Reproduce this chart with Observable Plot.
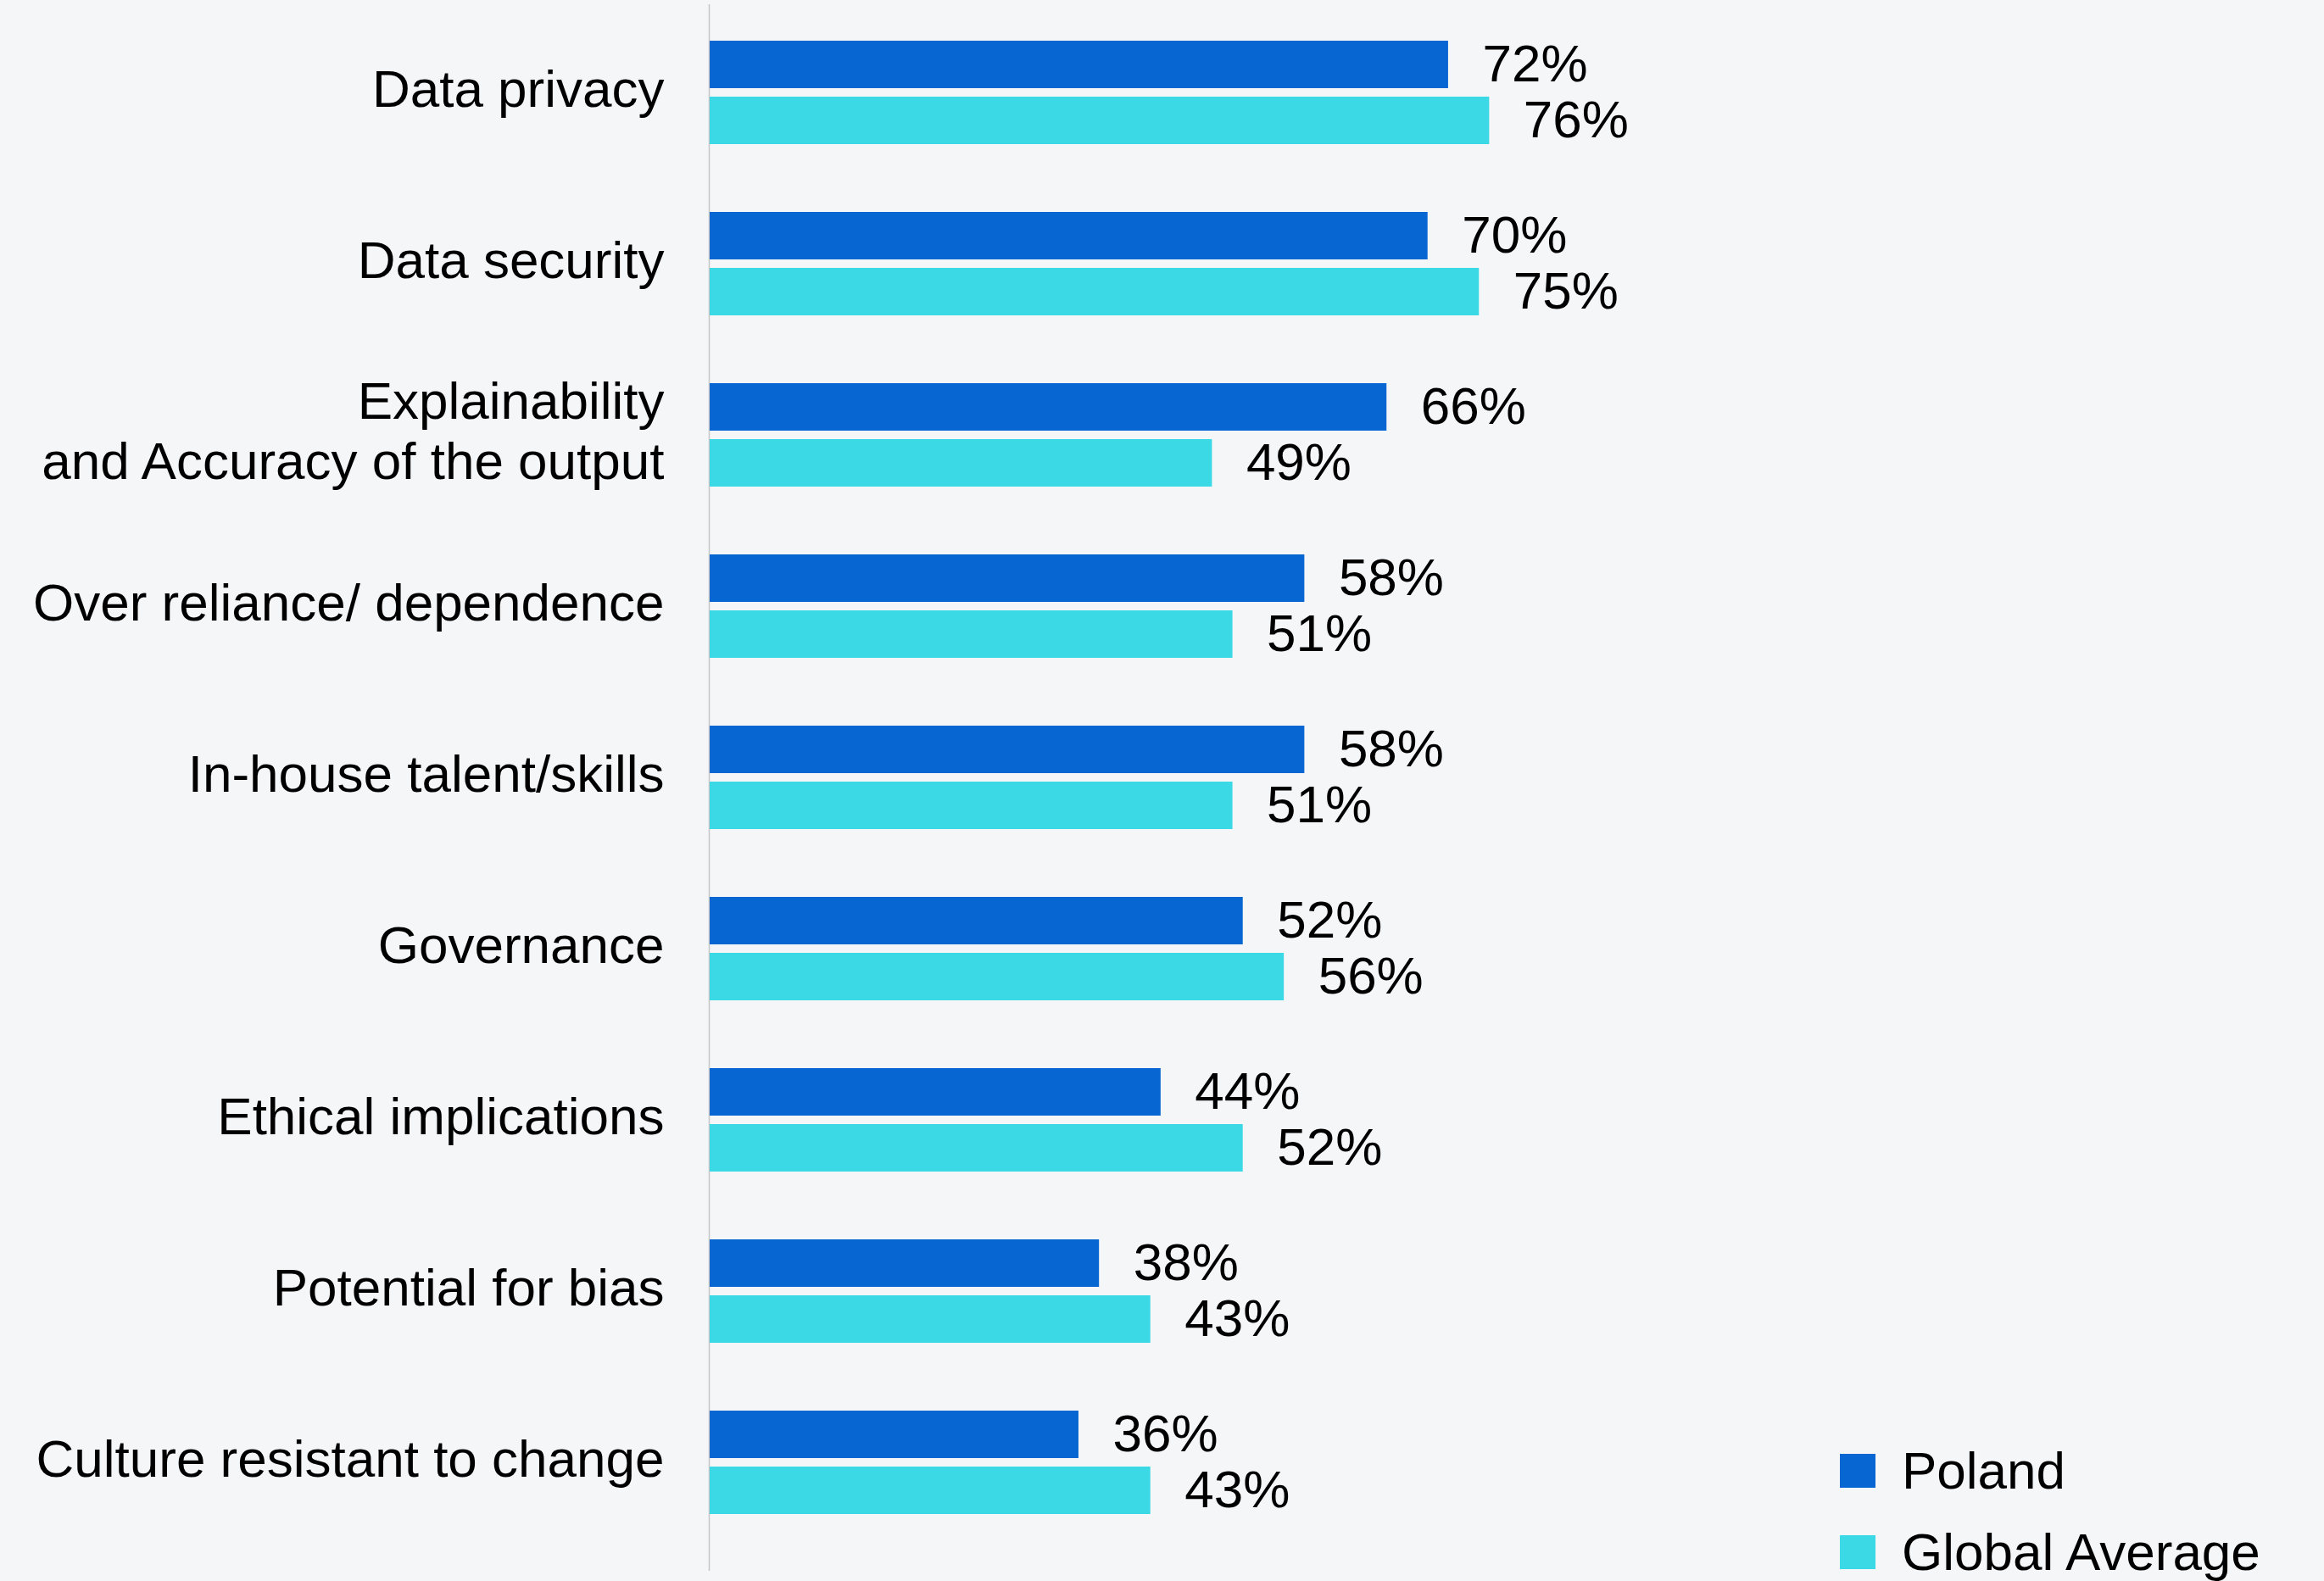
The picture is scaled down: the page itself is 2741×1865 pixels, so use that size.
<!DOCTYPE html>
<html>
<head>
<meta charset="utf-8">
<script src="https://cdn.jsdelivr.net/npm/d3@7"></script>
<script src="https://cdn.jsdelivr.net/npm/@observablehq/plot@0.6"></script>
<style>
  html, body { margin: 0; padding: 0; background: #f5f6f8; }
  #wrap { position: relative; width: 2741px; height: 1865px; background: #f5f6f8; overflow: hidden; }
  #legend { position: absolute; left: 2170px; top: 1687px; font-family: "Liberation Sans", Arial, sans-serif; font-size: 62px; color: #000; }
  .row { display: flex; align-items: center; height: 96px; }
  .sw { width: 42px; height: 40px; margin-right: 31px; }
  .lab { line-height: 1; white-space: nowrap; }
</style>
</head>
<body>
<div id="wrap"><div id="chart"></div><div id="legend"></div></div>
<script>
const categories = [
  "Data privacy",
  "Data security",
  "Explainability\nand Accuracy of the output",
  "Over reliance/ dependence",
  "In-house talent/skills",
  "Governance",
  "Ethical implications",
  "Potential for bias",
  "Culture resistant to change"
];
const poland = [72, 70, 66, 58, 58, 52, 44, 38, 36];
const globalAverage = [76, 75, 49, 51, 51, 56, 52, 43, 43];
const seriesNames = ["Poland", "Global Average"];
const seriesColors = ["#0866d2", "#3bd9e5"];

const polandRows = categories.map((c, i) => ({category: c, value: poland[i], series: seriesNames[0]}));
const globalRows = categories.map((c, i) => ({category: c, value: globalAverage[i], series: seriesNames[1]}));

const chart = Plot.plot({
  width: 2741,
  height: 1865,
  marginLeft: 836,
  marginRight: 694,
  marginTop: 5,
  marginBottom: 12,
  style: {background: "transparent", fontFamily: "'Liberation Sans', Arial, sans-serif", fontSize: "62px", color: "#000"},
  x: {domain: [0, 100], axis: null},
  y: {domain: categories, paddingInner: 0.398, paddingOuter: 0.2565, align: 0.394, label: null},
  marks: [
    Plot.ruleX([0], {stroke: "#c6c6c6", strokeWidth: 1.5}),
    Plot.barX(polandRows, {y: "category", x: "value", fill: seriesColors[0], insetBottom: 66, insetLeft: 1}),
    Plot.barX(globalRows, {y: "category", x: "value", fill: seriesColors[1], insetTop: 66, insetLeft: 1}),
    Plot.text(polandRows, {y: "category", x: "value", text: d => d.value + "%", textAnchor: "start", dx: 40, dy: -33, fill: "#000"}),
    Plot.text(globalRows, {y: "category", x: "value", text: d => d.value + "%", textAnchor: "start", dx: 40, dy: 33, fill: "#000"}),
    Plot.axisY({tickSize: 0, tickPadding: 53, lineHeight: 1.16, dy: -7, fill: "#000", label: null})
  ]
});
document.getElementById("chart").appendChild(chart);

const legend = document.getElementById("legend");
seriesNames.forEach((name, i) => {
  const row = document.createElement("div");
  row.className = "row";
  const sw = document.createElement("div");
  sw.className = "sw";
  sw.style.background = seriesColors[i];
  const lab = document.createElement("div");
  lab.className = "lab";
  lab.textContent = name;
  row.appendChild(sw);
  row.appendChild(lab);
  legend.appendChild(row);
});
</script>
</body>
</html>
